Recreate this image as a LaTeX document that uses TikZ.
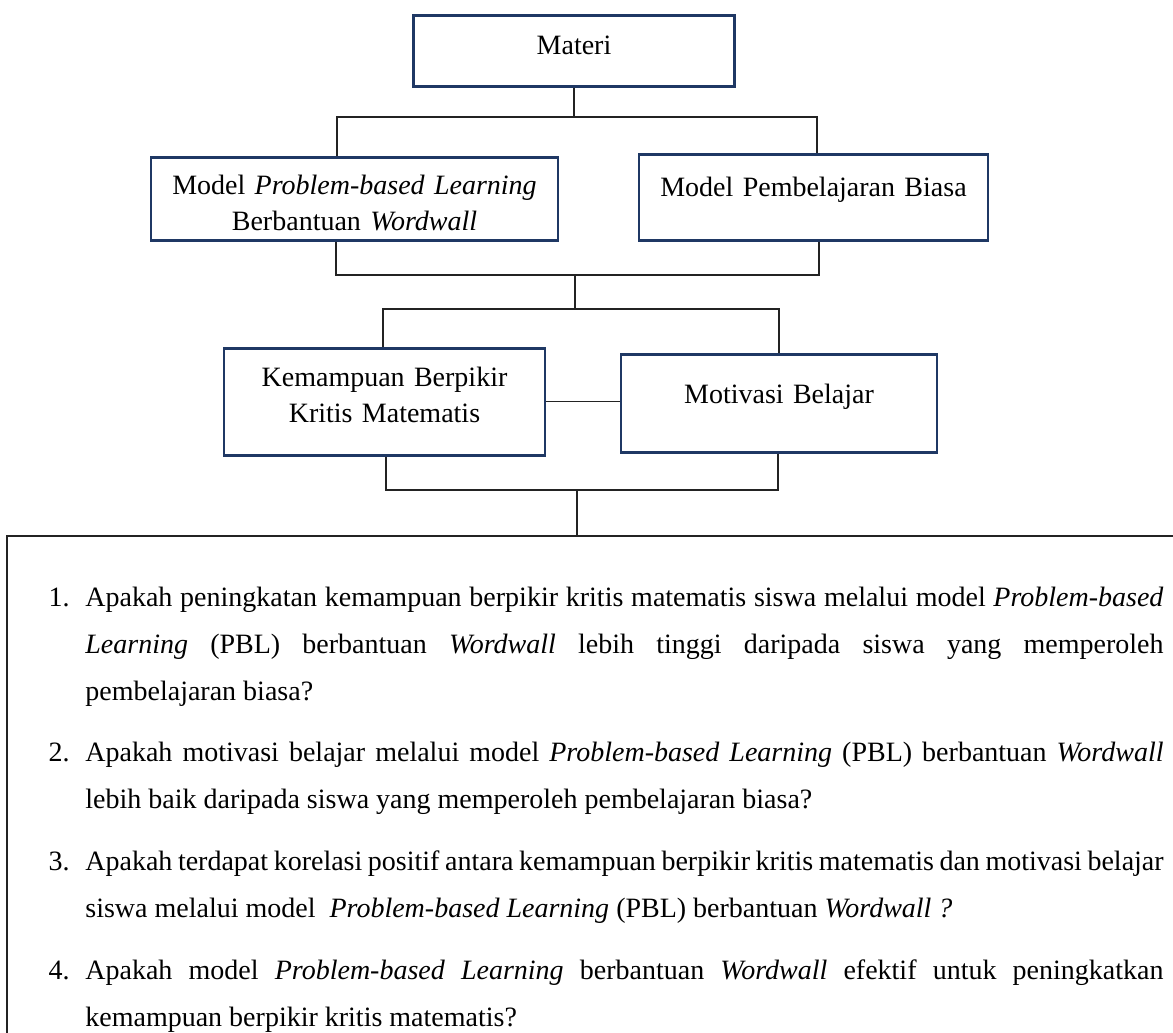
\documentclass[tikz,border=0pt]{standalone}
\usepackage{fontspec}
\setmainfont{Liberation Serif}
\usepackage{enumitem}
\usetikzlibrary{positioning,calc}
\definecolor{navy}{RGB}{31,56,100}
\definecolor{ink}{RGB}{35,35,35}
\tikzset{
  box/.style={draw=navy,line width=1.1pt,fill=white,inner sep=0pt,anchor=north,
    align=center,font=\fontsize{12}{15.4}\selectfont},
  link/.style={draw=ink,line width=0.55pt},
  frame/.style={draw=ink,line width=0.8pt},
  list box/.style={anchor=north west,inner sep=0pt,align=justify,
    font=\fontsize{12}{20.2}\selectfont},
}

\begin{document}
\begin{tikzpicture}[x=0.4286pt,y=-0.4286pt]
  \useasboundingbox (0,0) rectangle (1173,1032);
  % boxes
  \node[box,text width=137.6pt,text height=16.7pt,text depth=13.7pt] (materi) at (574,14) {Materi};
  \node[box,text width=174.4pt,text height=15.9pt,text depth=19.7pt] (pbl) at (354.5,156)
    {Model \textit{Problem-based Learning}\\ Berbantuan \textit{Wordwall}};
  \node[box,text width=149.6pt,text height=18pt,text depth=18.9pt] (biasa) at (813.5,153) {Model Pembelajaran Biasa};
  \node[box,text width=137.6pt,text height=16.3pt,text depth=29.6pt] (kbk) at (384.5,347)
    {Kemampuan Berpikir\\ Kritis Matematis};
  \node[box,text width=135.4pt,text height=21pt,text depth=21pt] (mb) at (779,353) {Motivasi Belajar};
  % research questions
  \node[list box,text width=495.5pt,text height=9.6pt,text depth=250pt] (soal) at (7,536) {%
    \hyphenpenalty=10000
    \begin{enumerate}[leftmargin=33.4pt,labelwidth=15.8pt,labelsep=0pt,align=left,
      itemsep=6.2pt,parsep=0pt,topsep=0pt]
      \item Apakah peningkatan kemampuan berpikir kritis matematis siswa melalui model \textit{Problem-based}\linebreak
        \textit{Learning} (PBL) berbantuan \textit{Wordwall} lebih tinggi daripada siswa yang memperoleh\linebreak
        pembelajaran biasa?
      \item Apakah motivasi belajar melalui model \textit{Problem-based Learning} (PBL) berbantuan \textit{Wordwall}\linebreak
        lebih baik daripada siswa yang memperoleh pembelajaran biasa?
      \item Apakah terdapat korelasi positif antara kemampuan berpikir kritis matematis dan motivasi belajar\linebreak
        siswa melalui model \ \textit{Problem-based Learning} (PBL) berbantuan \textit{Wordwall ?}
      \item Apakah model \textit{Problem-based Learning} berbantuan \textit{Wordwall} efektif untuk peningkatkan\linebreak
        kemampuan berpikir kritis matematis?
    \end{enumerate}};
  % connectors
  \coordinate (j1) at (574,117);
  \coordinate (j2) at (575,275);
  \coordinate (j3) at (575,309);
  \coordinate (j4) at (577,490);
  \coordinate (edge) at (1200,0);
  \draw[link] (materi.south) -- (j1);
  \draw[link] ([xshift=-7.5pt]pbl.north) |- (j1) -| ([xshift=1.5pt]biasa.north);
  \draw[link] ([xshift=-7.9pt]pbl.south) |- (j2) -| ([xshift=2.4pt]biasa.south);
  \draw[link] (j2) -- (j3);
  \draw[link] ([xshift=-0.6pt]kbk.north) |- (j3) -| (mb.north);
  \draw[link] (kbk.east) -- (kbk.east -| mb.west);
  \draw[link] ([xshift=0.6pt]kbk.south) |- (j4) -| ([xshift=-0.4pt]mb.south);
  \draw[link] (j4) -- (j4 |- soal.north);
  \draw[frame] (soal.south west) -- (soal.north west) -- (soal.north west -| edge);
\end{tikzpicture}
\end{document}
